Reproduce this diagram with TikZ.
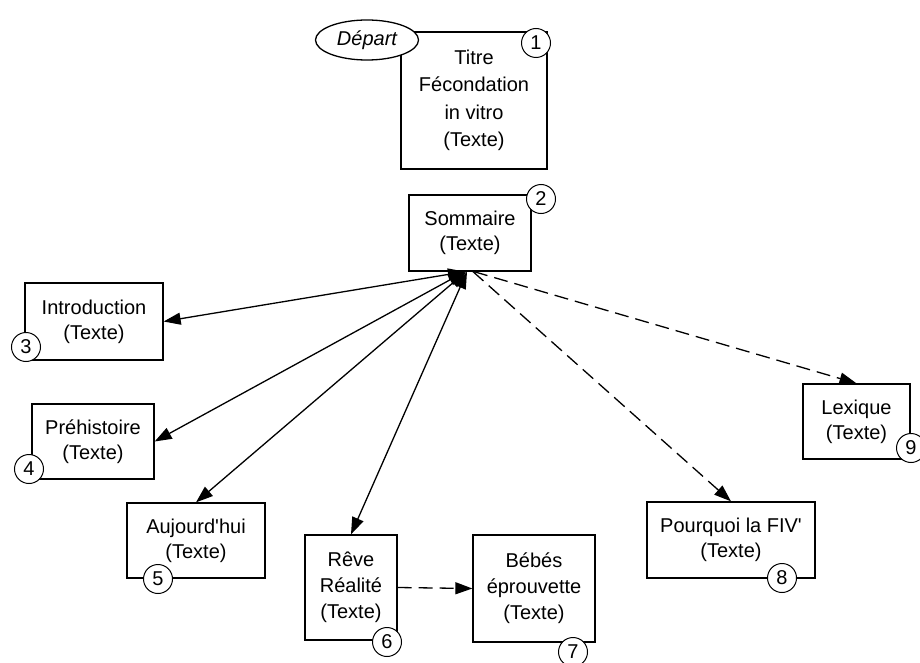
\documentclass[tikz,border=0pt]{standalone}
\usepackage{fontspec}
\setmainfont{Liberation Sans}
\usetikzlibrary{arrows.meta,shapes.geometric}
\begin{document}
\begin{tikzpicture}[x=1pt,y=-1pt,
  box/.style={draw,line width=1.3pt,align=center,inner sep=0pt,font=\fontsize{20}{25}\selectfont},
  tallbox/.style={box,font=\fontsize{20}{26}\selectfont},
  num/.style={draw,circle,fill=white,line width=1pt,minimum size=29pt,inner sep=0pt,font=\fontsize{20}{24}\selectfont},
  link/.style={line width=1.3pt},
  dashlink/.style={line width=1.3pt,dash pattern=on 14pt off 7pt},
  >={Triangle[length=17pt,width=12pt]}
]
\fill[white] (0,0) rectangle (920,663);
\useasboundingbox (0,0) rectangle (920,663);

% boxes
\node[box,font=\fontsize{20}{27.5}\selectfont,minimum width=146pt,minimum height=137pt] (titre) at (474,100.5) {Titre\\Fécondation\\in vitro\\(Texte)};
\node[draw,ellipse,fill=white,line width=1.3pt,minimum width=103pt,minimum height=40pt,inner sep=0pt,font=\fontsize{20}{24}\selectfont\itshape] (depart) at (367,40) {Départ};
\node[box,minimum width=122pt,minimum height=76pt] (sommaire) at (470,233) {Sommaire\\(Texte)};
\node[box,minimum width=138pt,minimum height=77pt] (intro) at (94,321.5) {Introduction\\(Texte)};
\node[box,minimum width=122pt,minimum height=75pt] (prehist) at (93,441.5) {Préhistoire\\(Texte)};
\node[box,minimum width=138pt,minimum height=75pt] (aujourd) at (196,540.5) {Aujourd\textquotesingle hui\\(Texte)};
\node[tallbox,minimum width=92pt,minimum height=105pt] (reve) at (351,587.5) {Rêve\\Réalité\\(Texte)};
\node[tallbox,minimum width=122pt,minimum height=107pt] (bebes) at (534,588.5) {Bébés\\éprouvette\\(Texte)};
\node[box,minimum width=168pt,minimum height=76pt] (pourquoi) at (731,540) {Pourquoi la FIV\textquotesingle\\(Texte)};
\node[box,minimum width=107pt,minimum height=75pt] (lexique) at (856.5,421.5) {Lexique\\(Texte)};

% connectors
\draw[link,<->] ([xshift=-5pt]sommaire.south) -- (intro.east);
\draw[link,<->] ([xshift=-5pt]sommaire.south) -- (prehist.east);
\draw[link,<->] ([xshift=-4pt]sommaire.south) -- (aujourd.north);
\draw[link,<->] ([xshift=-3pt]sommaire.south) -- (reve.north);
\draw[dashlink,->] ([xshift=3pt]sommaire.south) -- (pourquoi.north);
\draw[dashlink,->] ([xshift=4pt]sommaire.south) -- (lexique.north);
\draw[dashlink,->] (reve.east) -- (bebes.west);

% numbers
\node[num] (n1) at (536,43) {1};
\node[num] (n2) at (541,199) {2};
\node[num] (n3) at (26,347) {3};
\node[num] (n4) at (29,469) {4};
\node[num] (n5) at (158,579) {5};
\node[num] (n6) at (387,642) {6};
\node[num] (n7) at (573,652) {7};
\node[num] (n8) at (782,578) {8};
\node[num] (n9) at (911,448) {9};
\end{tikzpicture}
\end{document}
